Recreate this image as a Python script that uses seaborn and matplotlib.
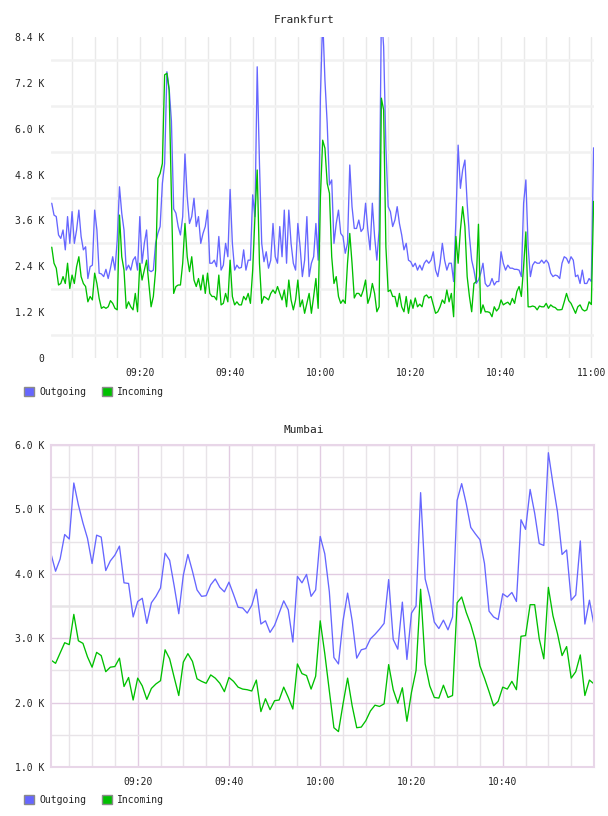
import numpy as np
import pandas as pd
import matplotlib
matplotlib.use("Agg")
import matplotlib.pyplot as plt
import matplotlib.dates as mdates
from matplotlib.ticker import FixedLocator, FuncFormatter
from matplotlib.patches import Patch
import seaborn as sns

sns.set_theme(style="white")
plt.rcParams['font.family'] = ['DejaVu Sans Mono', 'DejaVu Sans']

# ---------------- data (values in K) ----------------
series_names = ["Outgoing", "Incoming"]
titles = ["Frankfurt", "Mumbai"]

# Frankfurt: one sample every 30 s starting 09:00:30
fra_out = [
    4.05, 3.74, 3.70, 3.22, 3.13, 3.35, 2.83, 3.70, 3.00, 3.83, 3.00, 3.35, 3.87, 3.18, 2.83, 2.91, 2.08, 2.39, 2.43, 3.87,
    3.35, 2.22, 2.20, 2.13, 2.32, 2.08, 2.35, 2.65, 2.30, 3.09, 4.48, 3.79, 3.35, 2.30, 2.43, 2.30, 2.56, 2.65, 2.30, 3.70,
    2.48, 3.00, 3.35, 2.30, 2.26, 2.30, 3.00, 3.26, 3.44, 4.57, 5.09, 7.49, 7.05, 6.20, 3.90, 3.79, 3.44, 3.22, 3.70, 5.34,
    4.22, 3.52, 3.70, 4.18, 3.44, 3.70, 3.00, 3.26, 3.44, 3.87, 2.48, 2.48, 2.56, 2.39, 3.18, 2.30, 2.43, 3.00, 2.65, 4.41,
    3.00, 2.30, 2.43, 2.35, 2.37, 2.83, 2.30, 2.56, 2.56, 4.27, 3.70, 7.62, 5.09, 3.00, 2.52, 2.78, 2.35, 2.56, 3.52, 2.65,
    2.48, 3.44, 2.65, 3.87, 2.48, 3.87, 3.00, 2.48, 2.30, 3.52, 2.91, 2.13, 2.56, 3.70, 2.13, 2.48, 2.65, 3.52, 2.56, 6.84,
    8.90, 7.27, 6.14, 4.53, 4.66, 3.00, 3.52, 3.87, 3.26, 3.18, 2.74, 3.00, 5.05, 3.96, 3.39, 3.39, 3.61, 3.31, 3.39, 4.05,
    3.35, 2.83, 4.05, 3.18, 2.56, 3.35, 9.00, 8.15, 5.53, 3.96, 3.83, 3.44, 3.61, 3.96, 3.52, 3.22, 2.83, 3.00, 2.56, 2.52,
    2.39, 2.48, 2.30, 2.43, 2.30, 2.48, 2.56, 2.48, 2.56, 2.78, 2.30, 2.13, 2.48, 3.00, 2.56, 2.30, 2.48, 2.48, 2.00, 3.60,
    5.57, 4.44, 4.92, 5.18, 4.05, 3.18, 2.56, 2.30, 1.95, 2.04, 2.22, 2.48, 1.95, 1.87, 1.91, 2.08, 1.91, 2.00, 2.00, 2.78,
    2.48, 2.30, 2.43, 2.35, 2.35, 2.32, 2.32, 2.30, 2.13, 4.05, 4.66, 2.91, 2.13, 2.43, 2.52, 2.48, 2.48, 2.56, 2.48, 2.56,
    2.48, 2.22, 2.13, 2.17, 2.15, 2.08, 2.48, 2.65, 2.61, 2.48, 2.65, 2.56, 2.13, 2.17, 1.95, 2.30, 1.95, 1.95, 2.08, 2.00,
    5.50,
]
fra_in = [
    2.90, 2.48, 2.35, 1.91, 1.95, 2.13, 1.95, 2.48, 1.82, 2.17, 1.95, 2.39, 2.65, 2.13, 1.95, 1.87, 1.47, 1.61, 1.52, 2.22,
    1.95, 1.56, 1.30, 1.34, 1.30, 1.34, 1.50, 1.43, 1.30, 1.26, 3.74, 2.65, 2.30, 1.30, 1.47, 1.34, 1.26, 1.69, 1.21, 2.48,
    2.04, 2.30, 2.56, 1.95, 1.34, 1.61, 2.30, 4.70, 4.83, 5.09, 7.41, 7.45, 7.01, 4.22, 1.69, 1.87, 1.91, 1.91, 2.48, 3.52,
    2.65, 2.26, 2.65, 2.04, 1.87, 2.08, 1.78, 2.17, 1.69, 2.22, 1.69, 1.61, 1.61, 1.52, 2.17, 1.39, 1.43, 1.69, 1.47, 2.56,
    1.61, 1.39, 1.47, 1.39, 1.39, 1.61, 1.52, 1.69, 1.43, 2.30, 3.70, 4.92, 2.48, 1.43, 1.61, 1.57, 1.52, 1.69, 1.78, 1.69,
    1.87, 1.69, 1.52, 1.78, 1.34, 2.04, 1.52, 1.26, 1.52, 2.04, 1.34, 1.52, 1.17, 1.43, 1.69, 1.17, 1.61, 2.08, 1.30, 4.22,
    5.70, 5.49, 4.57, 4.31, 2.65, 1.95, 2.13, 1.61, 1.43, 1.52, 1.43, 2.48, 3.26, 2.48, 1.57, 1.69, 1.69, 1.61, 1.78, 2.04,
    1.43, 1.61, 1.95, 1.69, 1.21, 1.34, 6.80, 6.49, 2.91, 1.74, 1.78, 1.61, 1.61, 1.34, 1.69, 1.34, 1.21, 1.61, 1.17, 1.52,
    1.30, 1.57, 1.34, 1.41, 1.34, 1.61, 1.65, 1.57, 1.61, 1.39, 1.17, 1.21, 1.34, 1.52, 1.43, 1.78, 1.47, 1.69, 1.08, 3.18,
    2.48, 3.35, 3.96, 3.44, 2.13, 1.61, 1.21, 1.95, 2.00, 3.50, 1.17, 1.39, 1.21, 1.21, 1.19, 1.08, 1.34, 1.23, 1.30, 1.52,
    1.39, 1.43, 1.46, 1.39, 1.56, 1.43, 1.74, 1.87, 1.61, 2.40, 3.30, 1.34, 1.34, 1.36, 1.34, 1.26, 1.36, 1.34, 1.34, 1.43,
    1.30, 1.39, 1.34, 1.32, 1.26, 1.26, 1.27, 1.47, 1.69, 1.50, 1.43, 1.30, 1.17, 1.34, 1.39, 1.27, 1.23, 1.26, 1.47, 1.40,
    4.10,
]

# Mumbai: one sample per minute starting 09:01
mum_out = [
    4.31, 4.04, 4.23, 4.61, 4.54, 5.41, 5.07, 4.79, 4.55, 4.16,
    4.60, 4.57, 4.05, 4.20, 4.29, 4.43, 3.86, 3.85, 3.33, 3.57,
    3.62, 3.23, 3.55, 3.65, 3.78, 4.32, 4.21, 3.81, 3.38, 3.98,
    4.30, 4.04, 3.75, 3.65, 3.66, 3.83, 3.92, 3.79, 3.72, 3.87,
    3.68, 3.48, 3.47, 3.39, 3.51, 3.76, 3.22, 3.27, 3.09, 3.20,
    3.39, 3.58, 3.44, 2.94, 3.96, 3.86, 3.99, 3.65, 3.75, 4.58,
    4.31, 3.72, 2.70, 2.60, 3.27, 3.70, 3.27, 2.69, 2.82, 2.84,
    2.99, 3.06, 3.14, 3.23, 3.91, 2.98, 2.83, 3.56, 2.67, 3.39,
    3.50, 5.26, 3.92, 3.64, 3.25, 3.15, 3.28, 3.13, 3.33, 5.14,
    5.40, 5.09, 4.72, 4.62, 4.53, 4.16, 3.42, 3.33, 3.29, 3.69,
    3.64, 3.71, 3.57, 4.84, 4.69, 5.31, 4.94, 4.47, 4.44, 5.88,
    5.40, 4.96, 4.30, 4.37, 3.59, 3.67, 4.51, 3.22, 3.59, 3.20,
]
mum_in = [
    2.66, 2.61, 2.77, 2.93, 2.90, 3.37, 2.96, 2.92, 2.71, 2.55,
    2.78, 2.73, 2.48, 2.55, 2.56, 2.69, 2.25, 2.39, 2.04, 2.38,
    2.26, 2.05, 2.22, 2.29, 2.34, 2.82, 2.68, 2.39, 2.11, 2.63,
    2.76, 2.64, 2.37, 2.33, 2.30, 2.43, 2.38, 2.30, 2.17, 2.39,
    2.33, 2.24, 2.21, 2.20, 2.18, 2.35, 1.86, 2.06, 1.89, 2.03,
    2.04, 2.24, 2.08, 1.90, 2.60, 2.45, 2.42, 2.21, 2.41, 3.27,
    2.76, 2.18, 1.61, 1.55, 1.98, 2.38, 1.95, 1.61, 1.62, 1.72,
    1.87, 1.96, 1.94, 1.98, 2.59, 2.20, 1.99, 2.23, 1.71, 2.16,
    2.50, 3.76, 2.60, 2.26, 2.08, 2.07, 2.27, 2.08, 2.11, 3.55,
    3.64, 3.40, 3.21, 2.96, 2.57, 2.38, 2.17, 1.95, 2.02, 2.24,
    2.21, 2.33, 2.20, 3.03, 3.04, 3.52, 3.52, 2.99, 2.68, 3.79,
    3.35, 3.07, 2.73, 2.87, 2.38, 2.48, 2.74, 2.11, 2.35, 2.29,
]

fra_time = pd.date_range("2024-01-01 09:00:30", periods=len(fra_out), freq="30s")
mum_time = pd.date_range("2024-01-01 09:01:00", periods=len(mum_out), freq="1min")

fra_yticks = [0, 1.2, 2.4, 3.6, 4.8, 6.0, 7.2, 8.4]
mum_yticks = [1.0, 2.0, 3.0, 4.0, 5.0, 6.0]

BLUE = "#6666ff"
GREEN = "#00c000"
palette = {"Outgoing": BLUE, "Incoming": GREEN}


def long_df(t, out, inc):
    return pd.concat([
        pd.DataFrame({"time": t, "K": out, "series": "Outgoing"}),
        pd.DataFrame({"time": t, "K": inc, "series": "Incoming"}),
    ], ignore_index=True)


def ts(s):
    return mdates.date2num(pd.Timestamp("2024-01-01 " + s))


def kfmt(v, pos):
    return "0" if abs(v) < 1e-9 else f"{v:.1f} K"


W, H = 608, 816
fig = plt.figure(figsize=(W / 100, H / 100), dpi=100)


def add_ax(x0, y0, x1, y1):
    return fig.add_axes([x0 / W, 1 - y1 / H, (x1 - x0) / W, (y1 - y0) / H])


TXT = "#222222"
minor_5 = [ts(f"{h:02d}:{m:02d}") for h in (9, 10) for m in range(0, 60, 5)
           if m % 20 != 0 and not (h == 9 and m == 0)]

# ---------------- Frankfurt ----------------
ax1 = add_ax(51, 37, 593.6, 358)
sns.lineplot(data=long_df(fra_time, fra_out, fra_in), x="time", y="K", hue="series",
             hue_order=series_names, palette=palette, legend=False, linewidth=0.95,
             estimator=None, ax=ax1)
ax1.set_xlim(ts("09:00:20"), ts("11:00:30"))
ax1.set_ylim(0, 8.4)
ax1.xaxis.set_major_locator(FixedLocator([ts(s) for s in ["09:20", "09:40", "10:00", "10:20", "10:40", "11:00"]]))
ax1.xaxis.set_minor_locator(FixedLocator(minor_5))
ax1.xaxis.set_major_formatter(mdates.DateFormatter("%H:%M"))
ax1.yaxis.set_major_locator(FixedLocator(fra_yticks))
ax1.yaxis.set_minor_locator(FixedLocator([v + 0.6 for v in fra_yticks[:-1]]))
ax1.yaxis.set_major_formatter(FuncFormatter(kfmt))
ax1.grid(False)
ax1.grid(axis="x", which="both", color="#e9e9e9", linewidth=1.0)
ax1.grid(axis="y", which="minor", color="#f1f1f1", linewidth=1.8)
ax1.set_axisbelow(True)
for s in ax1.spines.values():
    s.set_visible(False)
ax1.set_xlabel("")
ax1.set_ylabel("")
ax1.tick_params(axis="both", which="both", length=0, labelsize=7, colors=TXT)
ax1.tick_params(axis="x", pad=7)
ax1.tick_params(axis="y", pad=5)
fig.text(0.5, 1 - 20 / H, titles[0], ha="center", va="center", fontsize=8, color=TXT)

# ---------------- Mumbai ----------------
ax2 = add_ax(51, 445, 594, 767)
sns.lineplot(data=long_df(mum_time, mum_out, mum_in), x="time", y="K", hue="series",
             hue_order=series_names, palette=palette, legend=False, linewidth=0.95,
             estimator=None, ax=ax2)
ax2.set_xlim(ts("09:01"), ts("11:00"))
ax2.set_ylim(1.0, 6.0)
ax2.xaxis.set_major_locator(FixedLocator([ts(s) for s in ["09:20", "09:40", "10:00", "10:20", "10:40"]]))
ax2.xaxis.set_minor_locator(FixedLocator(minor_5))
ax2.xaxis.set_major_formatter(mdates.DateFormatter("%H:%M"))
ax2.yaxis.set_major_locator(FixedLocator(mum_yticks))
ax2.yaxis.set_minor_locator(FixedLocator([v + 0.5 for v in mum_yticks[:-1]]))
ax2.yaxis.set_major_formatter(FuncFormatter(kfmt))
ax2.grid(False)
ax2.grid(which="major", color="#e2cce2", linewidth=1.0)
ax2.grid(which="minor", color="#e8e4e8", linewidth=1.0)
ax2.axhline(3.5, color="#ededed", linewidth=2.0, zorder=0.5)
ax2.set_axisbelow(True)
for s in ax2.spines.values():
    s.set_visible(True)
    s.set_color("#e8d6e8")
    s.set_linewidth(1.5)
ax2.set_xlabel("")
ax2.set_ylabel("")
ax2.tick_params(axis="both", which="both", length=0, labelsize=7, colors=TXT)
ax2.tick_params(axis="x", pad=7)
ax2.tick_params(axis="y", pad=5)
fig.text(0.5, 1 - 430 / H, titles[1], ha="center", va="center", fontsize=8, color=TXT)

# ---------------- legends ----------------
handles = [Patch(facecolor=palette[n], edgecolor="#8a8a8a", linewidth=1.0, label=n) for n in series_names]
for ax, ycen in ((ax1, 392), (ax2, 800)):
    ax.legend(handles=handles, loc="center left", bbox_to_anchor=(24 / W, 1 - ycen / H),
              bbox_transform=fig.transFigure, ncol=2, frameon=False, fontsize=7,
              handlelength=1.05, handleheight=1.05, handletextpad=0.5, columnspacing=1.6,
              borderaxespad=0, borderpad=0, labelcolor=TXT)

fig.savefig("out.png", dpi=100)
